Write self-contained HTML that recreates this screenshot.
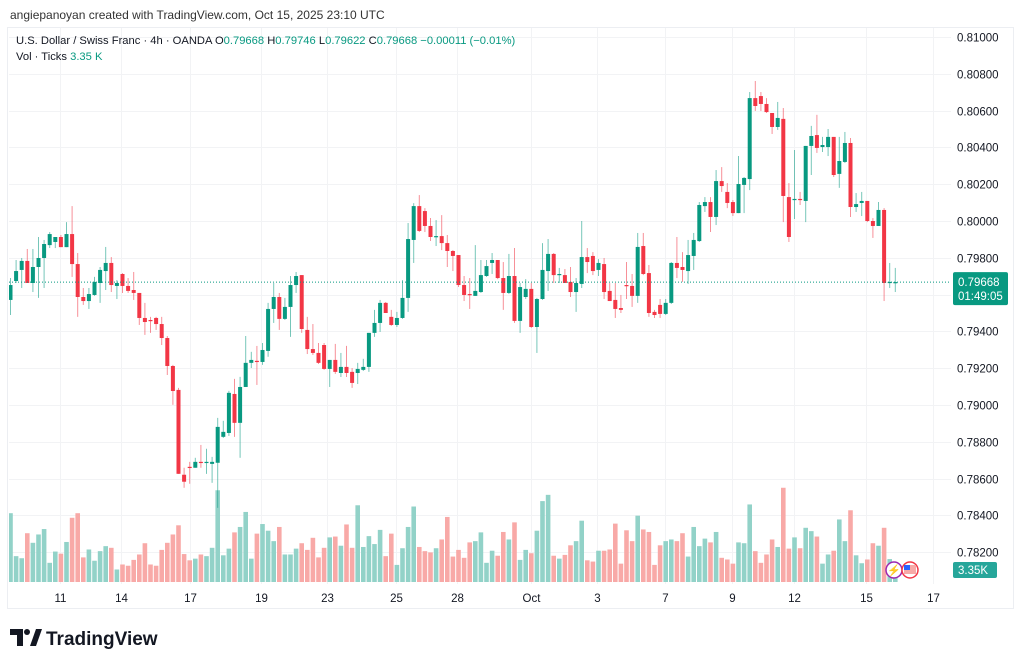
<!DOCTYPE html>
<html><head><meta charset="utf-8"><style>
html,body{margin:0;padding:0;background:#fff;}
svg{display:block;font-family:"Liberation Sans",sans-serif;}
</style></head><body>
<svg id="chart" width="1024" height="665" viewBox="0 0 1024 665" xmlns="http://www.w3.org/2000/svg">
<defs><clipPath id="pane"><rect x="9" y="28" width="942" height="556"/></clipPath></defs>
<rect x="0" y="0" width="1024" height="665" fill="#fff"/>
<text x="10" y="19" font-size="12" fill="#333">angiepanoyan created with TradingView.com, Oct 15, 2025 23:10 UTC</text>
<rect x="7.5" y="27.5" width="1006" height="581" fill="none" stroke="#eceef2"/>
<g id="grid"></g>
<g id="vols" clip-path="url(#pane)"></g>
<g id="candles" clip-path="url(#pane)"></g>
<g id="yaxis"></g>
<g id="xaxis"></g>
<g font-size="11.2">
<text x="16" y="44" fill="#131722">U.S. Dollar / Swiss Franc · 4h · OANDA <tspan fill="#131722">O</tspan><tspan fill="#089981">0.79668</tspan> <tspan fill="#131722">H</tspan><tspan fill="#089981">0.79746</tspan> <tspan fill="#131722">L</tspan><tspan fill="#089981">0.79622</tspan> <tspan fill="#131722">C</tspan><tspan fill="#089981">0.79668 −0.00011 (−0.01%)</tspan></text>
<text x="16" y="60" fill="#131722">Vol · Ticks <tspan fill="#089981">3.35 K</tspan></text>
</g>
<g>
<circle cx="894" cy="570" r="8" fill="#fff" stroke="#9c27b0" stroke-width="1.5"/>
<text x="894" y="574" font-size="11" fill="#9c27b0" text-anchor="middle">⚡</text>
<circle cx="910" cy="570" r="8" fill="#fff" stroke="#f23645" stroke-width="1.5"/>
<rect x="904" y="565" width="12" height="9" fill="#f7a9a7"/><rect x="904" y="565" width="6" height="5" fill="#2962ff"/>
</g>
<g>
<path d="M10 629 h13 v17 h-6 v-11 h-7 z" fill="#131722"/>
<circle cx="27" cy="632" r="3" fill="#131722"/>
<path d="M30 646 l6 -17 h6 l-6 17 z" fill="#131722"/>
<text x="46" y="645" font-size="19" font-weight="bold" fill="#131722">TradingView</text>
</g>
</svg>
<script>
const opens=[.79571,.79674,.79734,.79783,.79663,.79750,.79799,.79869,.79886,.79913,.79858,.79929,.79766,.79587,.79565,.79598,.79663,.79728,.79772,.79647,.79712,.79647,.79625,.79609,.79473,.79462,.79473,.79440,.79364,.79212,.79082,.78621,.78664,.78659,.78691,.78686,.78680,.78686,.78827,.78848,.79060,.78903,.79098,.79229,.79240,.79234,.79294,.79522,.79587,.79468,.79533,.79652,.79706,.79408,.79304,.79283,.79326,.79196,.79245,.79174,.79207,.79180,.79174,.79191,.79207,.79392,.79446,.79555,.79479,.79435,.79473,.79582,.79897,.80081,.80054,.79973,.79913,.79918,.79880,.79837,.79815,.79652,.79603,.79593,.79614,.79701,.79772,.79788,.79690,.79609,.79701,.79457,.79587,.79631,.79424,.79576,.79728,.79821,.79706,.79706,.79669,.79614,.79658,.79804,.79810,.79734,.79766,.79620,.79571,.79527,.79652,.79647,.79593,.79864,.79717,.79506,.79544,.79495,.79555,.79772,.79750,.79728,.79810,.79891,.80081,.80103,.80022,.80217,.80158,.80103,.80043,.80196,.80228,.80668,.80679,.80636,.80587,.80511,.80555,.80130,.80114,.80120,.80109,.80408,.80467,.80402,.80402,.80457,.80256,.80321,.80424,.80076,.80098,.80109,.80000,.79973,.80060,.79663,.79663];
const highs=[.79690,.79788,.79799,.79848,.79848,.79913,.79897,.79940,.79913,.79924,.79994,.80081,.79826,.79636,.79636,.79696,.79750,.79859,.79804,.79679,.79717,.79690,.79723,.79609,.79555,.79479,.79479,.79479,.79375,.79218,.79093,.78659,.78691,.78713,.78783,.78762,.78718,.78930,.78914,.79077,.79142,.79153,.79375,.79289,.79321,.79337,.79555,.79663,.79609,.79582,.79701,.79723,.79706,.79479,.79440,.79337,.79337,.79245,.79332,.79283,.79321,.79201,.79229,.79251,.79392,.79517,.79571,.79560,.79517,.79506,.79679,.79989,.80097,.80141,.80070,.80016,.80005,.80032,.79924,.79842,.79815,.79701,.79690,.79869,.79788,.79788,.79826,.79788,.79777,.79821,.79853,.79663,.79684,.79663,.79582,.79880,.79902,.79826,.79745,.79739,.79750,.79690,.80000,.79853,.79831,.79793,.79799,.79663,.79663,.79598,.79777,.79712,.79935,.79935,.79761,.79517,.79576,.79576,.79777,.79913,.79831,.79897,.79935,.80103,.80130,.80130,.80277,.80293,.80206,.80114,.80353,.80239,.80701,.80761,.80701,.80668,.80587,.80647,.80614,.80206,.80386,.80158,.80408,.80517,.80577,.80457,.80500,.80457,.80457,.80484,.80451,.80152,.80158,.80109,.80016,.80103,.80070,.79772,.79745];
const lows=[.79489,.79663,.79636,.79663,.79614,.79582,.79636,.79853,.79853,.79858,.79858,.79696,.79479,.79544,.79522,.79593,.79555,.79625,.79614,.79576,.79609,.79609,.79571,.79435,.79381,.79392,.79408,.79326,.79163,.79001,.78626,.78550,.78572,.78659,.78659,.78626,.78577,.78441,.78821,.78832,.78827,.78713,.79098,.79201,.79109,.79218,.79262,.79446,.79408,.79462,.79370,.79609,.79392,.79277,.79272,.79223,.79191,.79098,.79169,.79152,.79152,.79093,.79114,.79185,.79180,.79370,.79397,.79500,.79430,.79424,.79468,.79506,.79772,.79940,.79940,.79891,.79864,.79842,.79750,.79728,.79641,.79565,.79522,.79593,.79609,.79696,.79712,.79684,.79517,.79603,.79446,.79392,.79576,.79419,.79283,.79571,.79620,.79663,.79663,.79663,.79587,.79506,.79636,.79717,.79706,.79701,.79576,.79565,.79473,.79500,.79576,.79533,.79555,.79706,.79479,.79473,.79473,.79489,.79549,.79690,.79669,.79658,.79734,.79886,.80049,.79940,.79978,.80158,.80070,.80027,.80043,.80043,.80168,.80598,.80598,.80587,.80473,.80495,.79994,.79886,.80011,.80087,.79994,.80250,.80370,.80375,.80353,.80239,.80180,.80315,.80022,.80049,.80027,.79994,.79908,.79973,.79565,.79636,.79614];
const closes=[.79652,.79728,.79783,.79663,.79750,.79799,.79875,.79929,.79913,.79858,.79929,.79766,.79587,.79565,.79603,.79669,.79734,.79772,.79652,.79663,.79647,.79620,.79609,.79473,.79451,.79457,.79440,.79364,.79212,.79076,.78626,.78583,.78659,.78691,.78686,.78691,.78691,.78881,.78854,.79066,.78903,.79098,.79229,.79245,.79234,.79299,.79522,.79587,.79468,.79533,.79652,.79701,.79413,.79304,.79283,.79229,.79196,.79245,.79180,.79207,.79174,.79120,.79196,.79207,.79392,.79446,.79555,.79500,.79435,.79473,.79582,.79902,.80081,.79946,.79973,.79913,.79918,.79880,.79837,.79810,.79652,.79598,.79598,.79620,.79706,.79755,.79788,.79690,.79609,.79701,.79457,.79641,.79631,.79424,.79576,.79734,.79821,.79706,.79712,.79663,.79614,.79663,.79804,.79777,.79728,.79772,.79614,.79565,.79522,.79517,.79647,.79593,.79859,.79712,.79500,.79489,.79495,.79555,.79772,.79745,.79734,.79815,.79897,.80087,.80103,.80022,.80217,.80190,.80098,.80043,.80201,.80234,.80668,.80625,.80636,.80592,.80511,.80560,.80136,.79913,.80120,.80114,.80408,.80462,.80397,.80413,.80457,.80250,.80326,.80424,.80076,.80092,.80109,.80000,.79973,.80060,.79663,.79669,.79668];
const volumes=[16.5,6.2,5.7,11.7,9.4,11.4,12.7,4.6,7.3,6.8,9.6,15.4,16.5,5.9,7.8,5.1,7.4,8.6,8.2,3.0,4.2,3.9,5.3,6.6,9.3,4.2,3.9,7.7,9.4,11.4,13.6,6.7,5.2,5.6,6.6,6.2,8.2,22,6.4,8.0,11.9,13.2,16.8,5.6,11.6,13.9,12.3,9.8,13.2,6.6,6.6,8.0,9.3,7.7,10.6,5.9,8.2,10.7,10.9,8.7,13.8,8.2,18.4,8.4,11.0,9.1,12.5,6.2,11.6,4.1,8.1,13.2,18.1,8.4,7.4,7.1,8.1,10.2,15.6,6.1,7.7,5.8,9.5,9.8,11.9,4.6,7.5,6.3,12.0,10.2,14.3,5.3,7.7,6.9,12.3,19.4,20.9,6.3,5.6,6.5,8.8,9.8,14.7,5.2,4.9,7.5,7.5,7.8,14.0,4.4,12.4,9.8,15.9,12.6,12.0,4.1,8.8,9.8,10.2,9.8,11.7,6.1,13.2,8.6,10.4,9.5,12.0,5.8,5.4,4.4,9.5,9.3,18.6,7.4,4.6,6.6,10.2,8.4,22.6,8.0,10.7,8.1,13.0,12.2,10.9,4.4,6.6,7.5,15.0,9.8,17.2,6.4,4.5,5.4,9.3,8.7,13.0,5.5,3.35];
const priceTicks=[0.810,0.808,0.806,0.804,0.802,0.800,0.798,0.796,0.794,0.792,0.790,0.788,0.786,0.784,0.782];
const timeTickLabels=["11","14","17","19","23","25","28","Oct","3","7","9","12","15","17"];
const timeTickIndex=[8.9,19.8,32.1,44.8,56.6,68.9,79.8,92.9,104.8,116.8,128.8,139.9,152.8,164.8];

const NS="http://www.w3.org/2000/svg";
const X0=10.5, DX=5.6, PLEFT=9, PRIGHT=951;
const xOf=i=>X0+i*DX;
const yOf=p=>37+(0.81-p)/0.002*36.8;
const VBASE=582, VK=4.17;
const vOf=v=>VBASE-v*VK;
const UP="#089981", DN="#f23645", UPV="#92d2c8", DNV="#f8a9a7";
function mk(tag,attrs,parent){const e=document.createElementNS(NS,tag);for(const k in attrs)e.setAttribute(k,attrs[k]);parent.appendChild(e);return e;}
const grid=document.getElementById('grid'),yax=document.getElementById('yaxis'),xax=document.getElementById('xaxis');
const cg=document.getElementById('candles'),vg=document.getElementById('vols');
priceTicks.forEach(p=>{
  const y=Math.round(yOf(p))+0.5;
  const l=mk('line',{x1:PLEFT,x2:PRIGHT,y1:y,y2:y,stroke:'#f2f3f5'},grid);
  
  
  const t=mk('text',{x:957,y:y+4,'font-size':11.5,fill:'#131722'},yax);
  t.textContent=p.toFixed(5);
  
  
});
timeTickLabels.forEach((lab,k)=>{
  const x=Math.round(xOf(timeTickIndex[k]))+0.5;
  const l=mk('line',{x1:x,x2:x,y1:28,y2:584,stroke:'#f2f3f5'},grid);
  
  
  const t=mk('text',{x:x,y:602,'font-size':11.5,fill:'#131722','text-anchor':'middle'},xax);
  t.textContent=lab;
  
  
});
for(let i=0;i<opens.length;i++){
  const x=xOf(i), up=closes[i]>=opens[i];
  const vb=mk('rect',{x:x-2.3,y:vOf(volumes[i]),width:4.6,height:volumes[i]*VK,fill:up?UPV:DNV},vg);
  
  
  const w=mk('line',{x1:x,x2:x,y1:yOf(highs[i]),y2:yOf(lows[i]),stroke:up?UP:DN,'stroke-width':1,opacity:0.55},cg);
  
  
  const t=Math.min(yOf(opens[i]),yOf(closes[i])), h=Math.max(1.2,Math.abs(yOf(opens[i])-yOf(closes[i])));
  const b=mk('rect',{x:x-2,y:t,width:4,height:h,fill:up?UP:DN},cg);
  
  
}
const last=closes[closes.length-1], ly=yOf(last);
const pl=mk('line',{x1:PLEFT,x2:PRIGHT,y1:ly,y2:ly,stroke:UP,'stroke-dasharray':'1,2','stroke-width':1},cg.parentNode);


const box=mk('rect',{x:953,y:ly-10,width:55,height:33,rx:2,fill:UP},yax);


const t1=mk('text',{x:958,y:ly+4,'font-size':11.5,fill:'#fff'},yax);t1.textContent=last.toFixed(5);


const t2=mk('text',{x:958,y:ly+18,'font-size':11.5,fill:'#fff'},yax);t2.textContent='01:49:05';


const vbx=mk('rect',{x:953,y:562,width:44,height:16,rx:2,fill:'#26a69a'},yax);


const vt=mk('text',{x:958,y:574,'font-size':11.5,fill:'#fff'},yax);vt.textContent=volumes[volumes.length-1].toFixed(2)+'K';


</script>
</body></html>
